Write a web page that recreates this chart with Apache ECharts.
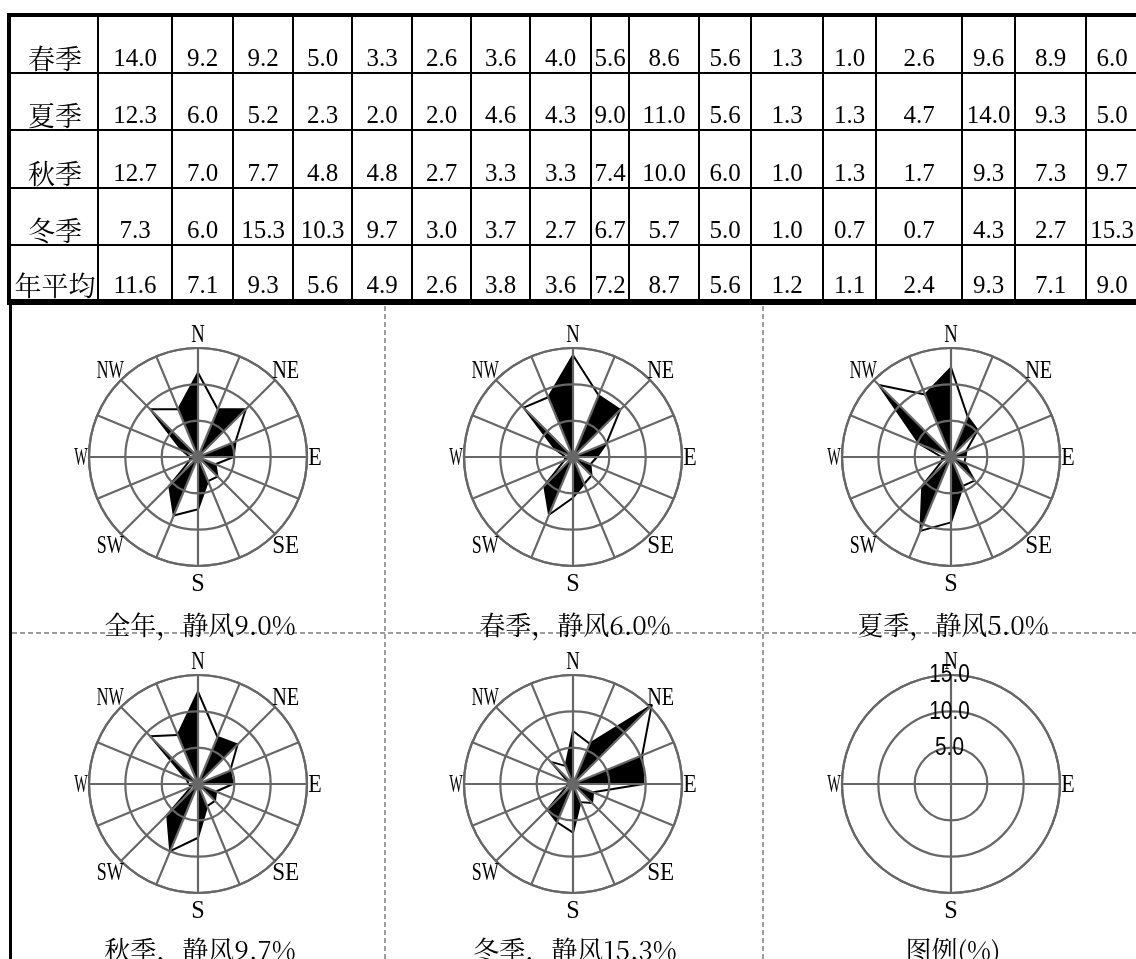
<!DOCTYPE html>
<html>
<head>
<meta charset="utf-8">
<title>风向频率玫瑰图</title>
<script src="https://cdn.jsdelivr.net/npm/echarts@6/dist/echarts.min.js"></script>
<style>
  html, body { margin: 0; padding: 0; background: #fff; }
  #chart { width: 1136px; height: 959px; }
</style>
</head>
<body>
<div id="chart"></div>
<script>
// 16 compass directions, clockwise from north
const DIRS = ['N', 'NNE', 'NE', 'ENE', 'E', 'ESE', 'SE', 'SSE', 'S', 'SSW', 'SW', 'WSW', 'W', 'WNW', 'NW', 'NNW'];

// wind direction frequency (%) per season, same order as DIRS
const SPRING = [14.0, 9.2, 9.2, 5.0, 3.3, 2.6, 3.6, 4.0, 5.6, 8.6, 5.6, 1.3, 1.0, 2.6, 9.6, 8.9];
const SUMMER = [12.3, 6.0, 5.2, 2.3, 2.0, 2.0, 4.6, 4.3, 9.0, 11.0, 5.6, 1.3, 1.3, 4.7, 14.0, 9.3];
const AUTUMN = [12.7, 7.0, 7.7, 4.8, 4.8, 2.7, 3.3, 3.3, 7.4, 10.0, 6.0, 1.0, 1.3, 1.7, 9.3, 7.3];
const WINTER = [7.3, 6.0, 15.3, 10.3, 9.7, 3.0, 3.7, 2.7, 6.7, 5.7, 5.0, 1.0, 0.7, 0.7, 4.3, 2.7];
const ANNUAL = [11.6, 7.1, 9.3, 5.6, 4.9, 2.6, 3.8, 3.6, 7.2, 8.7, 5.6, 1.2, 1.1, 2.4, 9.3, 7.1];

// calm wind frequency (%)
const CALM_SPRING = 6.0;
const CALM_SUMMER = 5.0;
const CALM_AUTUMN = 9.7;
const CALM_WINTER = 15.3;
const CALM_ANNUAL = 9.0;

// table rows
const ROW_NAMES = ['春季', '夏季', '秋季', '冬季', '年平均'];
const ROW_VALUES = [SPRING, SUMMER, AUTUMN, WINTER, ANNUAL];
const ROW_CALM = [CALM_SPRING, CALM_SUMMER, CALM_AUTUMN, CALM_WINTER, CALM_ANNUAL];

// rose panels: title prefix, values, calm
const PANEL_NAMES = ['全年', '春季', '夏季', '秋季', '冬季'];
const PANEL_VALUES = [ANNUAL, SPRING, SUMMER, AUTUMN, WINTER];
const PANEL_CALM = [CALM_ANNUAL, CALM_SPRING, CALM_SUMMER, CALM_AUTUMN, CALM_WINTER];
const LEGEND_TITLE = '图例(%)';

// radial scale of the roses (rings every 5 %)
const R_MAX = 15;
const R_STEP = 5;
const LEGEND_TICKS = [5, 10, 15];

// ---------- layout ----------
const COL_X = [98, 172, 233, 293, 352, 412, 471, 530, 591, 629, 699, 751, 823, 876, 962, 1015, 1086, 1138];
const ROW_Y = [17, 73, 130, 188, 245, 300];
const TABLE_LEFT = 7;
const LABEL_CX = 55;

const CENTERS = [[198, 457], [573, 457], [951, 457], [198, 784], [573, 784], [951, 784]];
const RADIUS = 109;
const CAPTION_Y = [625, 625, 625, 950, 950, 950];
const LEGEND_PANEL = 5;

const GRID_GRAY = '#676767';
const SERIF = '"Liberation Serif", "Times New Roman", serif';
const SANS = '"Liberation Sans", Arial, sans-serif';
const CJK = '"Noto Serif CJK SC", "Noto Sans CJK SC", sans-serif';

const STEP_DEG = 360 / DIRS.length;
const fmt = v => v.toFixed(1);

// text width helper, used to squeeze Latin labels into narrow half-width cells
const measureCtx = document.createElement('canvas').getContext('2d');
function textWidth(text, font) {
  measureCtx.font = font;
  return measureCtx.measureText(text).width;
}

// ---------- table graphics ----------
const graphics = [];
function bar(x, y, w, h, fill) {
  graphics.push({ type: 'rect', shape: { x, y, width: w, height: h }, style: { fill: fill || '#000' }, z: 10 });
}
// outer frame
bar(TABLE_LEFT, 13, 1136, 4);
bar(TABLE_LEFT, 13, 4, 292);
bar(TABLE_LEFT, 299, 1136, 6);
// row separators
for (let r = 1; r < ROW_Y.length - 1; r++) bar(TABLE_LEFT, ROW_Y[r] - 1, 1136, 2);
// column separators
for (let c = 0; c < COL_X.length - 1; c++) bar(COL_X[c] - 1, 15, 2, 286);

ROW_NAMES.forEach((name, r) => {
  const cy = ROW_Y[r + 1] - 14;
  graphics.push({
    type: 'text', x: LABEL_CX, y: cy, z: 11,
    style: { text: name, font: '27px ' + CJK, fill: '#000', align: 'center', verticalAlign: 'middle' }
  });
  const cells = ROW_VALUES[r].concat([ROW_CALM[r]]);
  cells.forEach((v, c) => {
    const cx = (COL_X[c] + COL_X[c + 1]) / 2;
    graphics.push({
      type: 'text', x: cx, y: cy, z: 11,
      style: { text: fmt(v), font: '25px ' + SERIF, fill: '#000', align: 'center', verticalAlign: 'middle' }
    });
  });
});

// ---------- panel frame ----------
bar(9, 300, 3, 659);
const DASH = { stroke: '#9d9d9d', lineWidth: 2, lineDash: [5, 3] };
graphics.push({ type: 'line', shape: { x1: 385, y1: 306, x2: 385, y2: 959 }, style: DASH, z: 10 });
graphics.push({ type: 'line', shape: { x1: 763, y1: 306, x2: 763, y2: 959 }, style: DASH, z: 10 });
graphics.push({ type: 'line', shape: { x1: 12, y1: 633, x2: 1136, y2: 633 }, style: DASH, z: 10 });

// captions
const captions = PANEL_NAMES.map((n, i) => n + '，静风' + fmt(PANEL_CALM[i]) + '%').concat([LEGEND_TITLE]);
captions.forEach((t, i) => {
  graphics.push({
    type: 'text', x: CENTERS[i][0] + 2, y: CAPTION_Y[i], z: 11,
    style: { text: t, font: '26px ' + CJK, fill: '#000', align: 'center', verticalAlign: 'middle' }
  });
});

// ---------- polar systems ----------
const polar = CENTERS.map(c => ({ center: c, radius: RADIUS }));

const angleAxis = CENTERS.map((c, i) => ({
  polarIndex: i,
  type: 'value',
  min: 0,
  max: 360,
  interval: i === LEGEND_PANEL ? 90 : STEP_DEG,
  startAngle: 90,
  clockwise: true,
  z: 2,
  axisLine: { show: true, lineStyle: { color: GRID_GRAY, width: 2.2 } },
  axisTick: { show: false },
  axisLabel: { show: false },
  splitLine: { show: true, lineStyle: { color: GRID_GRAY, width: 2.2 } }
}));

const radiusAxis = CENTERS.map((c, i) => ({
  polarIndex: i,
  type: 'value',
  min: 0,
  max: R_MAX,
  interval: R_STEP,
  z: 2,
  axisLine: { show: false },
  axisTick: { show: false },
  axisLabel: { show: false },
  splitLine: { show: true, lineStyle: { color: GRID_GRAY, width: 2.2 } }
}));

// rose: outline polygon through all 16 values, plus filled sectors
// between each odd direction and the following one (NNE-NE, ENE-E, ...)
function roseRenderer(vals) {
  const n = vals.length;
  return function (params, api) {
    const k = params.dataIndex;
    const k2 = (k + 1) % n;
    const o = api.coord([0, api.value(1)]);
    const p = api.coord([api.value(0), api.value(1)]);
    const q = api.coord([vals[k2], k2 * STEP_DEG]);
    const children = [];
    if (k % 2 === 1) {
      children.push({ type: 'polygon', shape: { points: [o, p, q] }, style: { fill: '#000' } });
    }
    children.push({
      type: 'line',
      shape: { x1: p[0], y1: p[1], x2: q[0], y2: q[1] },
      style: { stroke: '#000', lineWidth: 2, lineCap: 'round' }
    });
    return { type: 'group', children };
  };
}

const series = PANEL_VALUES.map((vals, i) => ({
  type: 'custom',
  coordinateSystem: 'polar',
  polarIndex: i,
  z: 1,
  silent: true,
  encode: { radius: 0, angle: 1 },
  data: vals.map((v, k) => [v, k * STEP_DEG]),
  renderItem: roseRenderer(vals)
}));

const chart = echarts.init(document.getElementById('chart'), null, { renderer: 'canvas' });
chart.setOption({
  backgroundColor: '#fff',
  animation: false,
  polar,
  angleAxis,
  radiusAxis,
  series
});

// ---------- direction labels and legend ring labels ----------
const DIR_FONT = '26px ' + SERIF;
const HALF_CELL = 13.5; // width of one half-width Latin glyph
// distance of each label centre beyond the outer ring, by compass role
function labelGap(k) {
  if (k === 0) return 14;            // N
  if (k === 8) return 17;            // S
  if (k === 4 || k === 12) return 8; // E, W
  return 15;                         // diagonals
}
CENTERS.forEach((c, i) => {
  const step = i === LEGEND_PANEL ? 4 : 2;
  DIRS.forEach((name, k) => {
    if (k % step !== 0) return;
    const ang = k * STEP_DEG;
    const o = chart.convertToPixel({ polarIndex: i }, [0, ang]);
    const p = chart.convertToPixel({ polarIndex: i }, [R_MAX, ang]);
    const len = Math.hypot(p[0] - o[0], p[1] - o[1]);
    const g = labelGap(k);
    const x = p[0] + (p[0] - o[0]) / len * g;
    const y = p[1] + (p[1] - o[1]) / len * g + 1.5;
    const sx = (HALF_CELL * name.length) / textWidth(name, DIR_FONT);
    graphics.push({
      type: 'text', x, y, scaleX: sx, z: 11,
      style: { text: name, font: DIR_FONT, fill: '#000', align: 'center', verticalAlign: 'middle' }
    });
  });
});

const RING_FONT = '26px ' + SANS;
LEGEND_TICKS.forEach(v => {
  const p = chart.convertToPixel({ polarIndex: LEGEND_PANEL }, [v, 0]);
  graphics.push({
    type: 'text', x: p[0] - 1.5, y: p[1], scaleX: 0.8, z: 12,
    style: { text: fmt(v), font: RING_FONT, fill: '#000', align: 'center', verticalAlign: 'middle' }
  });
});

chart.setOption({ graphic: { elements: graphics } });
</script>
</body>
</html>
